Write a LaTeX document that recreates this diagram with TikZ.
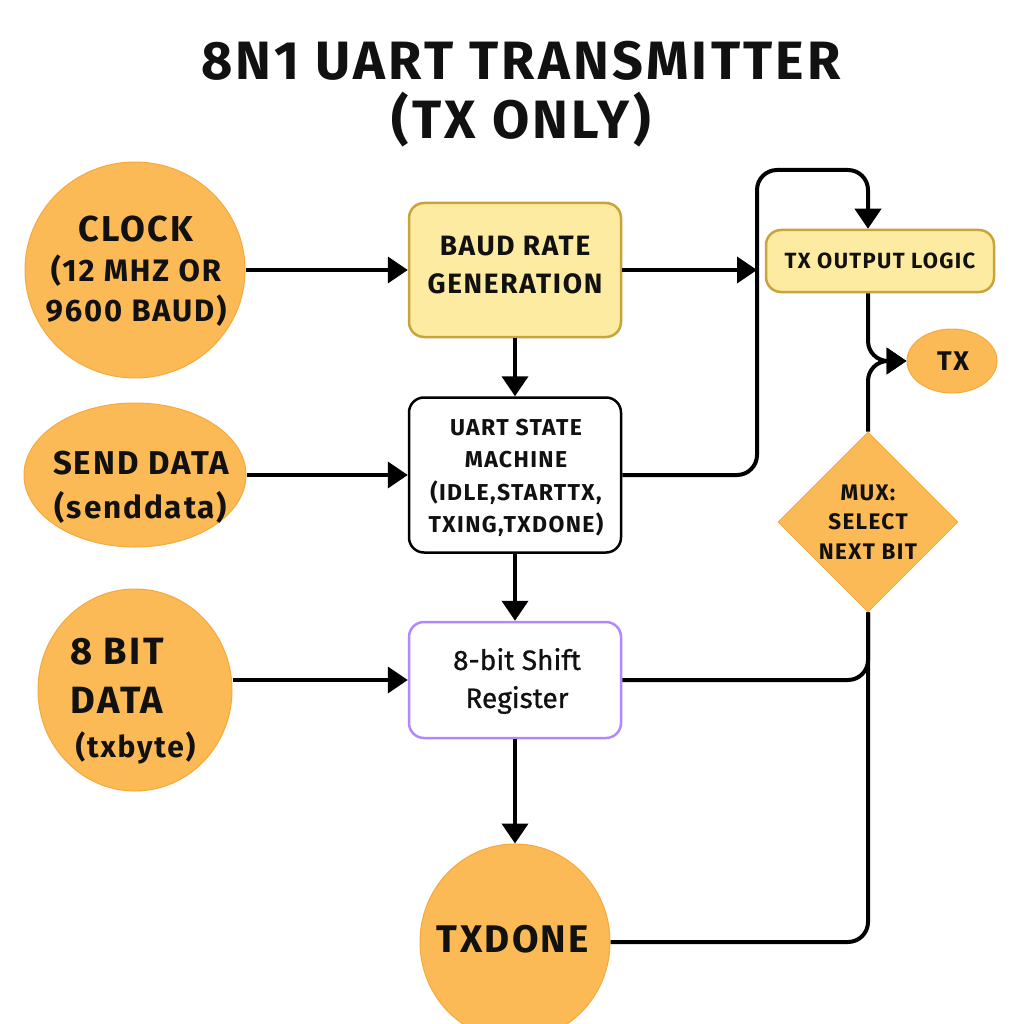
\documentclass[tikz,border=0pt]{standalone}
\usepackage{fontspec}
\setmainfont{Fira Sans}
\newfontfamily\titlefont[LetterSpace=6]{Fira Sans}
\newfontfamily\nodefont[LetterSpace=6]{Fira Sans}
\newfontfamily\medfont[FakeBold=0.8]{Fira Sans}
\usetikzlibrary{shapes.geometric,arrows.meta,calc}
\definecolor{orng}{HTML}{FBBA56}
\definecolor{orngline}{HTML}{F5A93A}
\definecolor{ylw}{HTML}{FDEBA1}
\definecolor{ylwline}{HTML}{C9A43A}
\definecolor{purp}{HTML}{B388FF}
\definecolor{ink}{HTML}{111111}
\tikzset{
  roundshape/.style={ellipse, fill=orng, draw=orngline, line width=1pt, inner sep=0pt},
  lbl/.style={align=center, inner sep=0pt, text=ink, font=\nodefont\bfseries},
  yellowbox/.style={rectangle, rounded corners=15pt, fill=ylw, draw=ylwline, line width=2.5pt},
  whitebox/.style={rectangle, rounded corners=15pt, fill=white, draw=black, line width=2.5pt},
  purplebox/.style={rectangle, rounded corners=15pt, fill=white, draw=purp, line width=2.5pt},
  muxshape/.style={diamond, fill=orng, draw=orngline, line width=0.8pt, inner sep=0pt, minimum width=180pt, minimum height=180pt},
  conn/.style={line width=4pt, draw=black},
  arr/.style={conn, -{Triangle[length=20pt,width=26pt]}},
}
\begin{document}
\begin{tikzpicture}[x=1pt,y=-1pt]
\useasboundingbox[fill=white] (0,0) rectangle (1024,1024);

% title
\node[inner sep=0pt, text=ink, font=\titlefont\bfseries\fontsize{54}{59}\selectfont, align=center] (title) at (521,94) {8N1 UART TRANSMITTER\\(TX ONLY)};

% left inputs
\node[roundshape, minimum width=220pt, minimum height=216pt] (clock) at (135,270) {};
\node[lbl, font=\nodefont\bfseries\fontsize{31}{40}\selectfont] (clockT) at (136,271) {{\fontsize{36}{40}\selectfont CLOCK}\\(12 MHZ OR\\9600 BAUD)};

\node[roundshape, minimum width=222pt, minimum height=144pt] (send) at (135,475) {};
\node[lbl, font=\nodefont\bfseries\fontsize{33}{44}\selectfont] (sendT) at (141,487) {SEND DATA\\{\fontsize{31.5}{44}\selectfont (senddata)}};

\node[roundshape, minimum width=194pt, minimum height=202pt] (bit8) at (135,690) {};
\node[lbl, align=left, font=\nodefont\bfseries\fontsize{38}{49}\selectfont] (bit8T) at (133,701) {8 BIT\\DATA\\[-5pt]{\fontsize{30}{40}\selectfont\,(txbyte)}};

% centre column
\node[yellowbox, minimum width=212pt, minimum height=134pt] (baud) at (515,270) {};
\node[lbl, font=\nodefont\bfseries\fontsize{28}{38}\selectfont] (baudT) at (515,265) {BAUD RATE\\GENERATION};
\node[whitebox, minimum width=212pt, minimum height=155pt] (sm) at (515,475) {};
\node[lbl, font=\nodefont\bfseries\fontsize{23}{32.5}\selectfont] (smT) at (516,478) {UART STATE\\MACHINE\\(IDLE,STARTTX,\\TXING,TXDONE)};
\node[purplebox, minimum width=212pt, minimum height=116pt] (sr) at (515,680) {};
\node[lbl, font=\medfont\fontsize{28}{38}\selectfont] (srT) at (517,681) {8-bit Shift\\Register};
\node[roundshape, minimum width=190pt, minimum height=196pt] (txdone) at (515,942) {};
\node[lbl, font=\nodefont\bfseries\fontsize{38.5}{48}\selectfont] (txdoneT) at (513,939) {TXDONE};

% right column
\node[yellowbox, minimum width=228pt, minimum height=62pt] (txo) at (880,261) {};
\node[lbl, font=\nodefont\bfseries\fontsize{22}{26}\selectfont] (txoT) at (880,261) {TX OUTPUT LOGIC};
\node[roundshape, minimum width=90pt, minimum height=64pt] (tx) at (952,361) {};
\node[lbl, font=\nodefont\bfseries\fontsize{27}{32}\selectfont] (txT) at (953,361) {TX};
\node[muxshape] (mux) at (868,522) {};
\node[lbl, font=\nodefont\bfseries\fontsize{22.5}{29.5}\selectfont] (muxT) at (868,522) {MUX:\\SELECT\\NEXT BIT};

\coordinate (bus) at (757,170);

% connectors
\draw[arr] (clock.east) -- (baud.west);
\draw[arr] (send.east) -- (sm.west);
\draw[arr] (bit8.east |- sr.west) -- (sr.west);
\draw[arr] (baud.south) -- (sm.north);
\draw[arr] (sm.south) -- (sr.north);
\draw[arr] (sr.south) -- (txdone.north);
\draw[arr] (baud.east) -- (baud.east -| bus);
\draw[arr, rounded corners=20pt] (sm.east) -| (bus) -| (mux |- txo.north);
\draw[arr, rounded corners=20pt] (mux |- txo.south) |- (tx.west);
\draw[arr, rounded corners=20pt] (mux.north) |- (tx.west);
\draw[conn, rounded corners=20pt] (sr.east) -| (mux.south);
\draw[conn, rounded corners=20pt] (txdone.east) -| (mux.south);
\end{tikzpicture}
\end{document}
